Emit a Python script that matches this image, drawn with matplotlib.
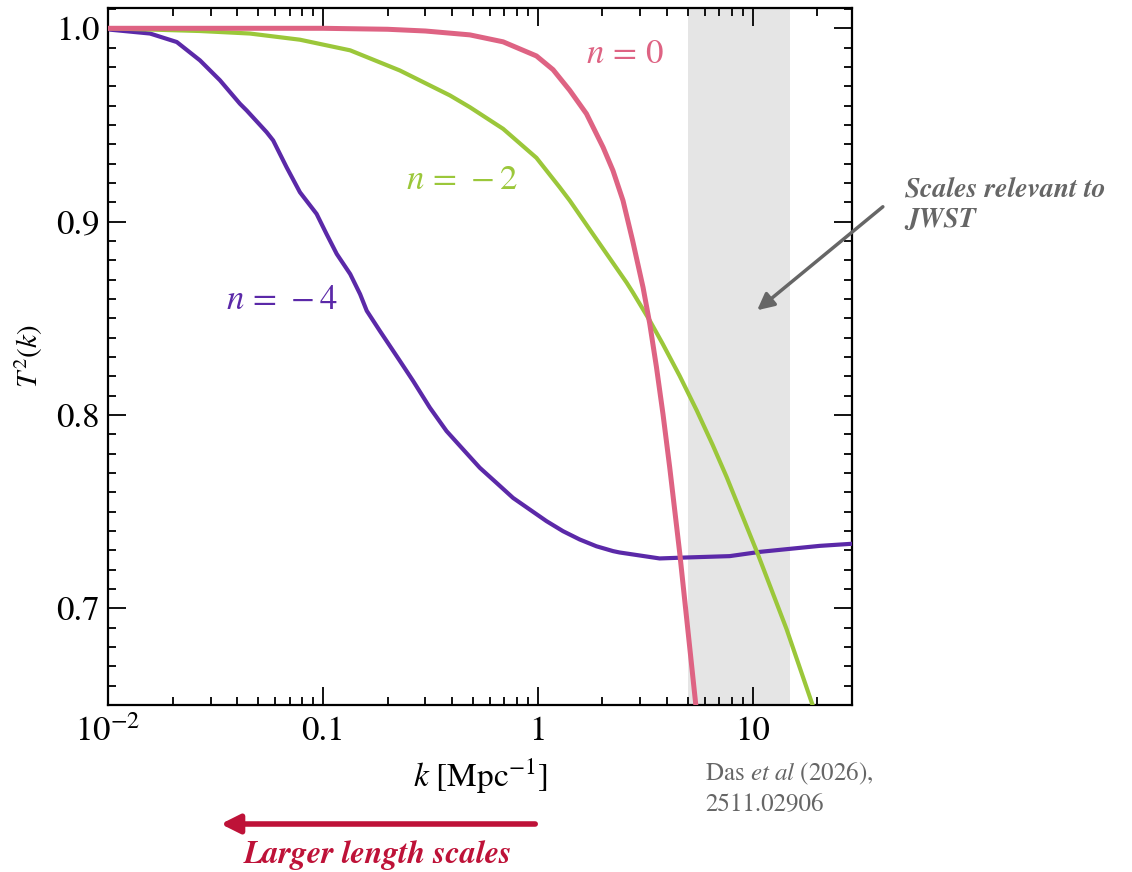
import matplotlib
matplotlib.use("Agg")
import matplotlib.pyplot as plt
from matplotlib.ticker import MultipleLocator, FixedLocator, FixedFormatter, LogLocator, NullFormatter

plt.rcParams['font.family'] = ['STIXGeneral', 'DejaVu Serif']
plt.rcParams['mathtext.fontset'] = 'stix'

# curves: k [Mpc^-1] and T^2(k)
k_n0 = [0.01, 0.03, 0.1, 0.2, 0.3, 0.483, 0.690, 0.986, 1.178, 1.409, 1.685, 2.013,
        2.239, 2.493, 2.766, 3.090, 3.318, 3.566, 3.828, 4.113, 4.576, 5.43, 5.7]
t2_n0 = [1.0, 1.0, 1.0, 0.9995, 0.9986, 0.9966, 0.9930, 0.9857, 0.9786, 0.9679, 0.9558,
         0.9385, 0.9264, 0.9109, 0.890, 0.866, 0.8474, 0.8249, 0.8003, 0.7728, 0.7288,
         0.6508, 0.628]

k_n2 = [0.01, 0.0268, 0.0457, 0.0782, 0.134, 0.228, 0.390, 0.483, 0.690, 0.986, 1.26,
        1.409, 1.80, 2.59, 2.766, 3.318, 3.814, 4.576, 5.490, 6.516, 7.570, 10.55,
        14.39, 19.02, 21.0]
t2_n2 = [1.0, 0.9986, 0.9973, 0.9941, 0.9886, 0.9782, 0.9653, 0.9592, 0.9480, 0.9330,
         0.9180, 0.9109, 0.8938, 0.8685, 0.8635, 0.8489, 0.8368, 0.8202, 0.8024, 0.7845,
         0.7679, 0.7283, 0.6892, 0.6499, 0.636]

k_n4 = [0.01, 0.01022, 0.01568, 0.0209, 0.0268, 0.0332, 0.0411, 0.0442, 0.0547, 0.0587,
        0.0678, 0.0782, 0.0935, 0.104, 0.116, 0.134, 0.149, 0.160, 0.1841,
        0.2281, 0.263, 0.3146, 0.3761, 0.4494, 0.5373, 0.6426, 0.7676, 0.918, 1.098,
        1.311, 1.568, 1.875, 2.240, 2.40, 3.69, 4.93, 7.82, 10.8, 14.4, 20.5, 30.0]
t2_n4 = [1.0, 0.9993, 0.9973, 0.9929, 0.9834, 0.9731, 0.9610, 0.9575, 0.9463, 0.9420,
         0.9281, 0.9152, 0.9040, 0.8936, 0.8833, 0.8729, 0.8625, 0.8539, 0.8435,
         0.8280, 0.8176, 0.8038, 0.7917, 0.7822, 0.7727, 0.7649, 0.7571, 0.7511, 0.7451,
         0.7399, 0.7356, 0.7321, 0.7296, 0.7289, 0.7258, 0.7263, 0.727, 0.7292, 0.7306,
         0.7323, 0.7335]

jwst_band = (5, 15)

x_ticks = [0.01, 0.1, 1, 10]
x_ticklabels = [r'$10^{-2}$', '0.1', '1', '10']
y_ticks = [0.7, 0.8, 0.9, 1.0]
y_ticklabels = ['0.7', '0.8', '0.9', '1.0']

pink = '#de6383'
green = '#9bc73a'
purple = '#5b29a8'
crimson = '#be1238'
gray = '#666666'

fig = plt.figure(figsize=(11.32, 8.72), dpi=100)
ax = fig.add_axes([108/1132, 1-705/872, 744/1132, 697/872])

ax.axvspan(jwst_band[0], jwst_band[1], color='#e5e5e5', lw=0, zorder=0)
ax.plot(k_n4, t2_n4, color=purple, lw=3.0, zorder=3, solid_joinstyle='round')
ax.plot(k_n2, t2_n2, color=green, lw=3.0, zorder=3, solid_joinstyle='round')
ax.plot(k_n0, t2_n0, color=pink, lw=3.6, zorder=4, solid_joinstyle='round')

ax.set_xscale('log')
ax.set_xlim(0.01, 29)
ax.set_ylim(0.65, 1.0105)

ax.xaxis.set_major_locator(FixedLocator(x_ticks))
ax.xaxis.set_major_formatter(FixedFormatter(x_ticklabels))
ax.xaxis.set_minor_locator(LogLocator(base=10, subs=range(2, 10)))
ax.xaxis.set_minor_formatter(NullFormatter())
ax.yaxis.set_major_locator(FixedLocator(y_ticks))
ax.yaxis.set_major_formatter(FixedFormatter(y_ticklabels))
ax.yaxis.set_minor_locator(MultipleLocator(0.01))

ax.tick_params(which='both', direction='in', top=True, right=True, width=1.3)
ax.tick_params(which='major', length=13, labelsize=25)
ax.tick_params(which='minor', length=6)
ax.tick_params(axis='x', which='major', pad=8)
ax.tick_params(axis='y', which='major', pad=6)
for s in ax.spines.values():
    s.set_linewidth(1.6)

ax.set_xlabel(r'$k\ [\mathrm{Mpc}^{-1}]$', fontsize=24, labelpad=6)
ax.set_ylabel(r'$T^2(k)$', fontsize=21, labelpad=8)

# curve labels
ax.text(2.54, 0.986, r'$n\,=\,0$', color=pink, fontsize=25, ha='center', va='center')
ax.text(0.443, 0.921, r'$n\,=\,-2$', color=green, fontsize=25, ha='center', va='center')
ax.text(0.0645, 0.859, r'$n\,=\,-4$', color=purple, fontsize=25, ha='center', va='center')

# JWST annotation
fig.text(905/1132, 1-205/872, 'Scales relevant to\nJWST', color=gray, fontsize=20,
         fontweight='bold', fontstyle='italic', ha='left', va='center', linespacing=1.2)
ax.annotate('', xy=(755/1132, 1-312/872), xytext=(885/1132, 1-205/872),
            xycoords='figure fraction', textcoords='figure fraction',
            arrowprops=dict(arrowstyle='-|>', color=gray, lw=2.5, mutation_scale=25),
            annotation_clip=False)

# length scale arrow
ax.annotate('', xy=(218/1132, 1-824/872), xytext=(538/1132, 1-824/872),
            xycoords='figure fraction', textcoords='figure fraction',
            arrowprops=dict(arrowstyle='-|>', color=crimson, lw=4, mutation_scale=28),
            annotation_clip=False)
fig.text(378/1132, 1-855/872, 'Larger length scales', color=crimson, fontsize=23,
         fontweight='bold', fontstyle='italic', ha='center', va='center')

# citation
fig.text(705/1132, 1-789/872, 'Das $\\it{et\\ al}$ (2026),\n2511.02906', color=gray,
         fontsize=18, ha='left', va='center', linespacing=1.3)

fig.savefig('out.png', dpi=100)
